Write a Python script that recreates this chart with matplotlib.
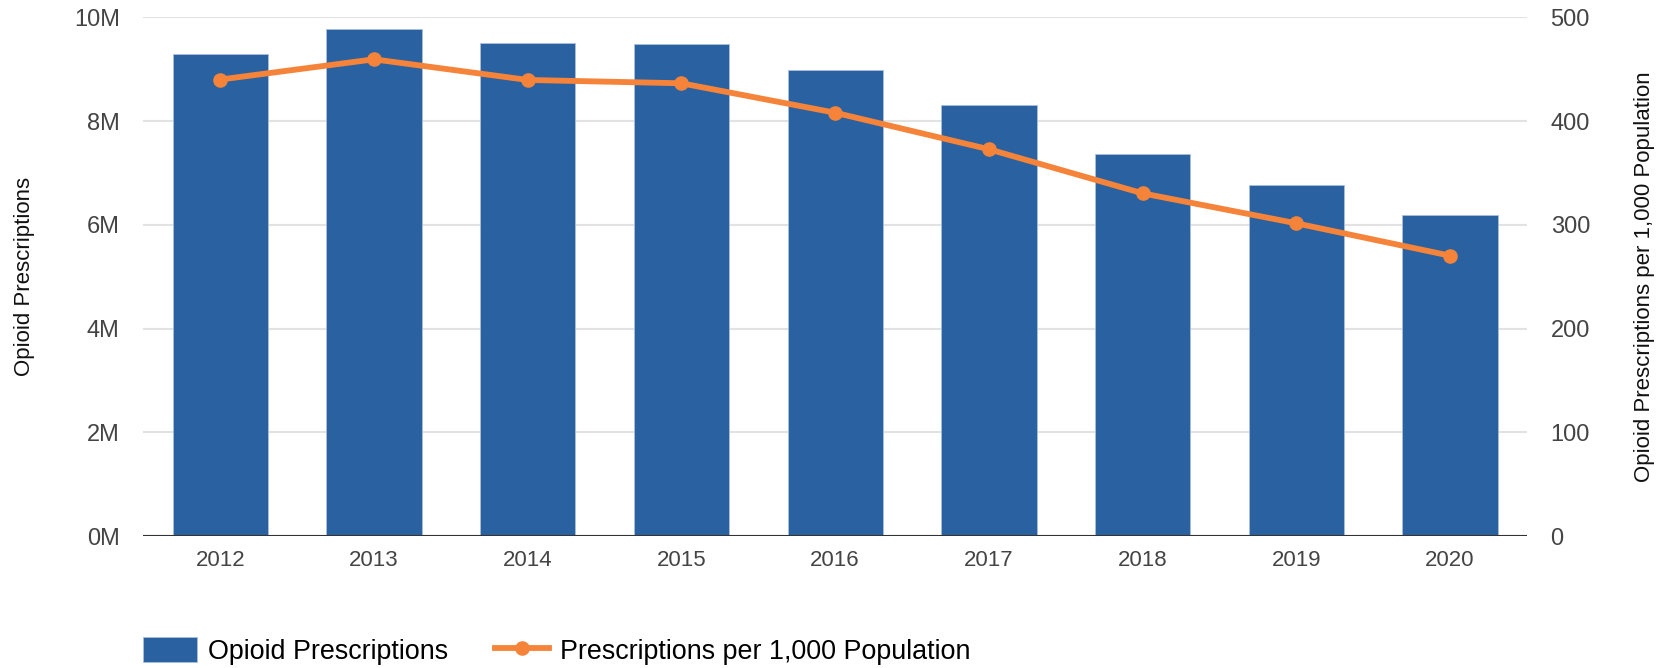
import matplotlib
matplotlib.use("Agg")
import matplotlib.pyplot as plt
import numpy as np

plt.rcParams['font.family'] = ['Liberation Sans', 'DejaVu Sans']

# data
years = ['2012', '2013', '2014', '2015', '2016', '2017', '2018', '2019', '2020']
prescriptions = [9.30e6, 9.78e6, 9.50e6, 9.49e6, 8.98e6, 8.30e6, 7.37e6, 6.77e6, 6.18e6]
per_1000 = [440, 459.5, 439.6, 436.4, 408, 372.8, 330.3, 301.4, 270.2]

left_ticks = [0, 2e6, 4e6, 6e6, 8e6, 10e6]
left_labels = ['0M', '2M', '4M', '6M', '8M', '10M']
right_ticks = [0, 100, 200, 300, 400, 500]

bar_col = '#2A61A0'
line_col = '#F5843A'
txt_col = '#444444'

fig = plt.figure(figsize=(16.69, 6.68), dpi=100)
ax = fig.add_axes([0.0859, 0.1976, 0.829, 0.7765])
ax2 = ax.twinx()

x = np.arange(len(years))
ax.bar(x, prescriptions, width=0.62, color=bar_col, edgecolor='#A9C0DC',
       linewidth=0.6, zorder=2, label='Opioid Prescriptions')
ax.set_xlim(-0.5, len(years) - 0.5)
ax.set_ylim(0, 10e6)
ax.set_yticks(left_ticks)
ax.set_yticklabels(left_labels)
ax.set_xticks(x)
ax.set_xticklabels(years)
ax.grid(axis='y', color='#E2E2E2', linewidth=1.5, zorder=0)
ax.set_axisbelow(True)
ax.axhline(0, color='#333333', linewidth=1.5, zorder=3)

ax2.plot(x, per_1000, color=line_col, linewidth=4.2, marker='o', markersize=9.5,
         zorder=4, label='Prescriptions per 1,000 Population')
ax2.set_ylim(0, 500)
ax2.set_yticks(right_ticks)

for a in (ax, ax2):
    for s in a.spines.values():
        s.set_visible(False)
ax.tick_params(axis='y', length=0, pad=17, labelsize=17, labelcolor=txt_col)
ax.tick_params(axis='x', length=0, pad=10, labelsize=16, labelcolor=txt_col)
ax2.tick_params(axis='y', length=0, pad=17, labelsize=17, labelcolor=txt_col)

fig.text(0.0144, 0.5855, 'Opioid Prescriptions', rotation=90, ha='center',
         va='center', fontsize=16, color='#111111')
fig.text(0.9856, 0.5855, 'Opioid Prescriptions per 1,000 Population', rotation=90,
         ha='center', va='center', fontsize=16, color='#111111')

h1, l1 = ax.get_legend_handles_labels()
h2, l2 = ax2.get_legend_handles_labels()
fig.legend(h1 + h2, l1 + l2, loc='center left', bbox_to_anchor=(0.0859, 0.0254),
           ncol=2, frameon=False, fontsize=19.4, handlelength=2.0, handleheight=1.0,
           handletextpad=0.4, columnspacing=1.75, borderpad=0, borderaxespad=0)

fig.savefig('out.png', dpi=100)
